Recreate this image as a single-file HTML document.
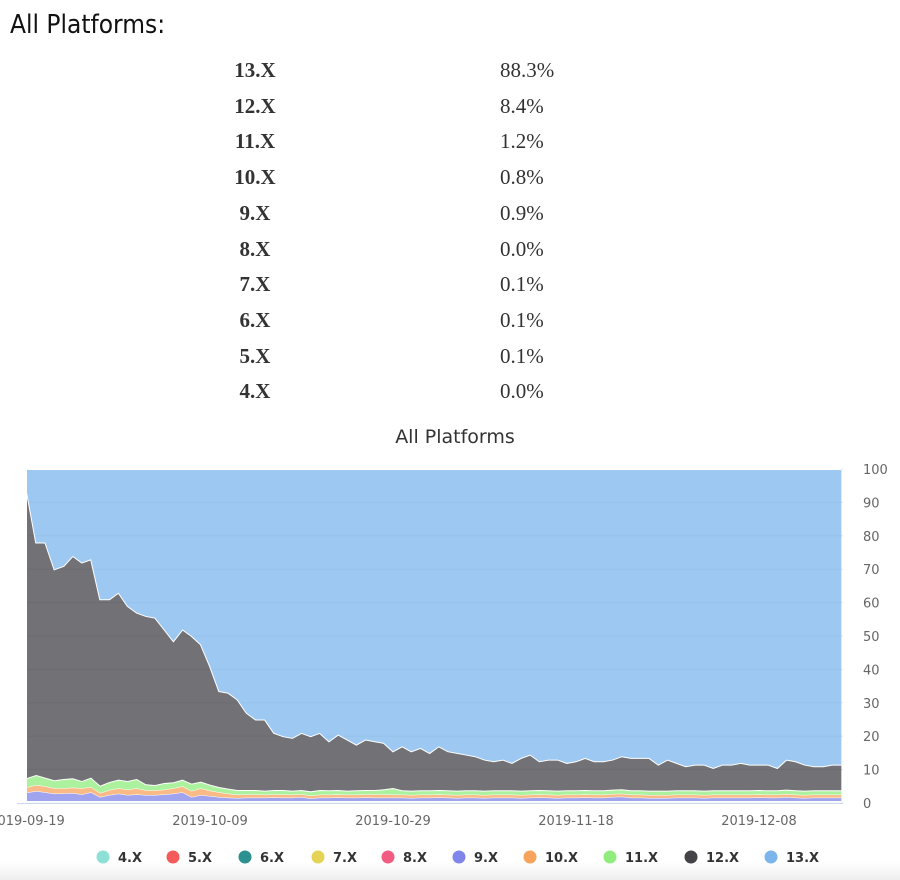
<!DOCTYPE html>
<html><head><meta charset="utf-8">
<style>
body{margin:0;width:900px;height:880px;background:#fff;overflow:hidden;position:relative;font-family:"Liberation Sans",sans-serif}
#title{position:absolute;left:10px;top:10px;font-size:26px;color:#111;font-family:"DejaVu Sans Condensed","Liberation Sans",sans-serif}
.row{position:absolute;left:0;width:900px;height:36px;font-family:"Liberation Serif",serif;font-size:21px;color:#333}
.row .v{position:absolute;left:200px;width:110px;text-align:center;font-weight:bold}
.row .p{position:absolute;left:500px}
#foot{position:absolute;left:0;top:862px;width:900px;height:18px;background:linear-gradient(#fff,#eee)}
</style></head><body>
<div id="title">All Platforms:</div>
<div id="table"></div>
<div id="foot"></div>
<svg id="chart" width="900" height="880" style="position:absolute;left:0;top:0"></svg>
<script>
const tableLabels=["13.X","12.X","11.X","10.X","9.X","8.X","7.X","6.X","5.X","4.X"];
const tableValues=["88.3%","8.4%","1.2%","0.8%","0.9%","0.0%","0.1%","0.1%","0.1%","0.0%"];
const seriesNames=["4.X","5.X","6.X","7.X","8.X","9.X","10.X","11.X","12.X","13.X"];
const startDate="2019-09-19";
const tickLabels=["2019-09-19","2019-10-09","2019-10-29","2019-11-18","2019-12-08"];
const yTicks=[0,10,20,30,40,50,60,70,80,90,100];
const s4=[0.2,0.2,0.2,0.2,0.2,0.2,0.2,0.2,0.2,0.2,0.2,0.2,0.2,0.2,0.2,0.2,0.2,0.2,0.2,0.2,0.2,0.2,0.2,0.2,0.2,0.2,0.2,0.2,0.2,0.2,0.2,0.2,0.2,0.2,0.2,0.2,0.2,0.2,0.2,0.2,0.2,0.2,0.2,0.2,0.2,0.2,0.2,0.2,0.2,0.2,0.2,0.2,0.2,0.2,0.2,0.2,0.2,0.2,0.2,0.2,0.2,0.2,0.2,0.2,0.2,0.2,0.2,0.2,0.2,0.2,0.2,0.2,0.2,0.2,0.2,0.2,0.2,0.2,0.2,0.2,0.2,0.2,0.2,0.2,0.2,0.2,0.2,0.2,0.2,0.2];
const s5=[0.1,0.1,0.1,0.1,0.1,0.1,0.1,0.1,0.1,0.1,0.1,0.1,0.1,0.1,0.1,0.1,0.1,0.1,0.1,0.1,0.1,0.1,0.1,0.1,0.1,0.1,0.1,0.1,0.1,0.1,0.1,0.1,0.1,0.1,0.1,0.1,0.1,0.1,0.1,0.1,0.1,0.1,0.1,0.1,0.1,0.1,0.1,0.1,0.1,0.1,0.1,0.1,0.1,0.1,0.1,0.1,0.1,0.1,0.1,0.1,0.1,0.1,0.1,0.1,0.1,0.1,0.1,0.1,0.1,0.1,0.1,0.1,0.1,0.1,0.1,0.1,0.1,0.1,0.1,0.1,0.1,0.1,0.1,0.1,0.1,0.1,0.1,0.1,0.1,0.1];
const s6=s5.slice();
const s7=s5.slice();
const s8=s5.slice();
const s9=[2.5,3.0,2.6,2.2,2.3,2.4,2.0,2.6,1.2,1.8,2.2,1.8,2.0,1.8,1.8,2.0,2.2,2.6,1.2,1.8,
1.5,1.2,1.0,0.9,1.0,1.0,1.0,1.1,1.0,1.0,1.2,0.8,1.0,1.0,1.1,1.0,1.0,1.1,1.0,1.0,
1.0,1.0,0.9,1.0,1.0,1.1,1.0,0.9,1.0,1.0,0.9,1.0,1.0,1.0,0.9,1.0,1.1,1.0,0.9,1.0,
1.0,1.1,1.0,1.0,1.2,1.3,1.0,1.0,0.9,0.9,0.9,1.0,1.0,1.0,0.9,1.0,1.0,1.0,1.0,1.0,
1.1,1.0,1.0,1.2,1.0,0.9,1.0,1.0,1.0,1.0];
const s10=[1.6,1.8,1.8,1.6,1.5,1.6,1.8,1.6,1.2,1.5,1.6,1.6,1.8,1.4,1.4,1.4,1.6,1.8,1.8,2.0,
1.6,1.4,1.2,1.0,1.0,1.0,0.9,0.9,1.0,0.9,0.9,0.8,0.9,0.9,0.9,0.9,0.9,0.9,1.0,1.0,
0.9,0.9,0.9,0.9,0.9,0.9,0.9,0.9,0.9,0.9,0.9,0.9,0.9,0.9,0.9,0.9,0.9,0.9,0.9,0.9,
0.9,0.9,0.9,0.9,0.9,0.9,0.9,0.9,0.9,0.9,0.9,0.9,0.9,0.9,0.9,0.9,0.9,0.9,0.9,0.9,
0.9,0.9,0.9,0.9,0.9,0.9,0.9,0.9,0.9,0.9];
const s11=[2.8,3.0,2.6,2.4,2.8,2.8,2.2,2.8,2.2,2.4,2.6,2.6,2.8,1.8,1.6,2.0,1.8,2.0,2.2,2.0,
1.8,1.6,1.5,1.4,1.3,1.3,1.2,1.3,1.3,1.2,1.2,1.3,1.4,1.3,1.3,1.2,1.3,1.3,1.3,1.5,
2.0,1.3,1.3,1.3,1.3,1.3,1.3,1.3,1.3,1.3,1.3,1.3,1.3,1.3,1.3,1.3,1.3,1.3,1.3,1.3,
1.3,1.3,1.3,1.3,1.3,1.3,1.3,1.3,1.3,1.3,1.3,1.3,1.3,1.3,1.3,1.3,1.3,1.3,1.3,1.3,
1.3,1.3,1.3,1.3,1.3,1.3,1.3,1.3,1.3,1.3];
const s12=[85.5,69.6,70.4,63.2,63.8,66.6,65.4,65.4,55.8,54.7,56,52.4,49.8,50.4,50.1,46,42.3,45,44.2,41.1,
35.5,28.7,28.7,27.1,23.1,21.1,21.3,17.1,16.1,15.8,17.1,16.5,17.1,14.7,16.6,15.3,13.7,15.1,14.6,13.9,
11.0,13.2,11.8,12.7,11.2,13.1,11.7,11.3,10.7,10.2,9.3,8.7,9.2,8.2,9.8,10.7,8.6,9.2,9.3,8.2,
8.7,9.6,8.7,8.7,9.0,9.9,9.7,9.7,9.8,7.8,9.3,8.2,7.2,7.7,7.8,6.7,7.7,7.7,8.2,7.7,
7.6,7.7,6.7,9.0,8.7,7.8,7.2,7.2,7.7,7.7];
const s13=[7,22,22,30,29,26,28,27,39,39,37,41,43,44,44.5,48,51.5,48,50,52.5,
59,66.5,67,69,73,75,75,79,80,80.5,79,80,79,81.5,79.5,81,82.5,81,81.5,82,
84.5,83,84.5,83.5,85,83,84.5,85,85.5,86,87,87.5,87,88,86.5,85.5,87.5,87,87,88,
87.5,86.5,87.5,87.5,87,86,86.5,86.5,86.5,88.5,87,88,89,88.5,88.5,89.5,88.5,88.5,88,88.5,
88.5,88.5,89.5,87,87.5,88.5,89,89,88.5,88.5];
const allSeries=[s4,s5,s6,s7,s8,s9,s10,s11,s12,s13];
const colors=["#8ee0d6","#f45b5b","#2b908f","#e4d354","#f15c80","#8085e9","#f7a35c","#90ed7d","#434348","#7cb5ec"];

// table
const tbl=document.getElementById('table');
tableLabels.forEach((l,i)=>{
  const r=document.createElement('div');
  r.className='row';
  
  
  r.style.top=(58+i*35.7)+'px';
  r.innerHTML='<span class="v">'+l+'</span><span class="p">'+tableValues[i]+'</span>';
  tbl.appendChild(r);
});

const NS="http://www.w3.org/2000/svg";
const svg=document.getElementById('chart');
const X0=27,X1=843,Y0=803,Y1=469;
const n=s13.length;
const dayPx=9.15;
const t0=Date.parse(startDate+"T00:00:00Z");
const xDay=d=>X0+d*dayPx;
const xIdx=i=>xDay(i);
const yV=v=>Y0-(v/100)*(Y0-Y1);
function el(tag,attrs,parent){const e=document.createElementNS(NS,tag);for(const k in attrs)e.setAttribute(k,attrs[k]);(parent||svg).appendChild(e);return e;}

const title=el('text',{x:455,y:443,'text-anchor':'middle','font-size':19,fill:'#333','font-family':'"DejaVu Sans","Liberation Sans",sans-serif'});


title.textContent='All Platforms';

// gridlines + y labels
yTicks.forEach(v=>{
  const g=el('line',{x1:X0,x2:X1,y1:yV(v),y2:yV(v),stroke:'#e6e6e6','stroke-width':1});
  
  
  const t=el('text',{x:863,y:yV(v)+5,'font-size':13,fill:'#666','font-family':'"DejaVu Sans","Liberation Sans",sans-serif'});
  
  
  t.textContent=v;
});

// stacked percent
const totals=[];for(let i=0;i<n;i++){let s=0;allSeries.forEach(a=>s+=a[i]);totals.push(s);}
let lower=new Array(n).fill(0);
const areaG=el('g',{});


allSeries.forEach((arr,k)=>{
  const upper=lower.map((l,i)=>l+arr[i]/totals[i]*100);
  let d='M'+xIdx(0)+','+yV(upper[0]);
  for(let i=1;i<n;i++)d+='L'+xIdx(i)+','+yV(upper[i]);
  for(let i=n-1;i>=0;i--)d+='L'+xIdx(i)+','+yV(lower[i]);
  d+='Z';
  const p=el('path',{d:d,fill:colors[k],'fill-opacity':k==8?0.75:0.75,stroke:'none'},areaG);
  
  
  let ld='M'+xIdx(0)+','+yV(upper[0]);
  for(let i=1;i<n;i++)ld+='L'+xIdx(i)+','+yV(upper[i]);
  const ln=el('path',{d:ld,fill:'none',stroke:'#fff','stroke-width':k>=7?2:1},areaG);
  
  
  lower=upper;
});

const ax=el('line',{x1:X0-10,x2:X1,y1:Y0+0.5,y2:Y0+0.5,stroke:'#ccd6eb','stroke-width':1});



tickLabels.forEach(lbl=>{
  const d=(Date.parse(lbl+"T00:00:00Z")-t0)/86400000;
  const t=el('text',{x:xDay(d),y:825,'text-anchor':'middle','font-size':13,fill:'#666','font-family':'"DejaVu Sans","Liberation Sans",sans-serif'});
  
  
  t.textContent=lbl;
});

// legend
const legX=[103,173,245,318,388,459,530,610,691,771];
seriesNames.forEach((nm,k)=>{
  const g=el('g',{});
  
  
  el('circle',{cx:legX[k],cy:857,r:6.5,fill:colors[k]},g);
  const t=el('text',{x:legX[k]+15,y:862,'font-size':13,'font-weight':'bold',fill:'#333','font-family':'"DejaVu Sans","Liberation Sans",sans-serif'},g);
  t.textContent=nm;
});
</script>
</body></html>
